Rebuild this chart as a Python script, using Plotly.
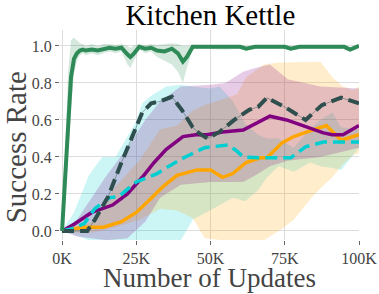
import plotly.graph_objects as go

# ---------------- data (x in thousands of updates) ----------------
green_x = [0, 1, 2, 3, 4, 5, 6, 7, 8, 10, 12, 14, 16, 18, 20, 22, 23, 24, 26, 28, 30, 32, 34.5, 37, 39,
           40.7, 42, 44, 46, 50, 55, 60, 62, 65, 70, 75, 77, 80, 85, 90, 95, 97, 100]
green_y = [0, 0.3, 0.6, 0.83, 0.93, 0.96, 0.975, 0.98, 0.975, 0.98, 0.975, 0.985, 0.99, 0.985, 0.99, 0.955,
           0.94, 0.955, 0.995, 0.985, 0.99, 0.975, 0.97, 0.985, 0.96, 0.915, 0.94, 0.995, 0.995, 0.995,
           0.99, 0.995, 0.985, 0.995, 0.995, 0.995, 0.985, 0.995, 0.995, 0.995, 0.995, 0.98, 1.0]
green_lo = [0, 0.15, 0.4, 0.65, 0.85, 0.92, 0.95, 0.96, 0.95, 0.96, 0.95, 0.96, 0.97, 0.96, 0.97, 0.9,
            0.88, 0.91, 0.98, 0.96, 0.97, 0.94, 0.92, 0.9, 0.86, 0.8, 0.88, 0.98, 0.985, 0.985,
            0.98, 0.985, 0.975, 0.985, 0.985, 0.985, 0.975, 0.985, 0.985, 0.985, 0.985, 0.97, 0.99]
green_hi = [0, 0.45, 0.85, 1.03, 1.045, 1.03, 1.015, 1.01, 1.0, 1.01, 1.0, 1.01, 1.01, 1.005, 1.01, 1.0,
            0.99, 1.0, 1.01, 1.005, 1.01, 1.005, 1.01, 1.015, 1.01, 1.0, 1.0, 1.005, 1.005, 1.005,
            1.0, 1.005, 0.995, 1.005, 1.005, 1.005, 0.995, 1.005, 1.005, 1.005, 1.005, 0.99, 1.01]

slate_x = [0, 8.5, 11, 15.5, 20, 24.5, 27, 30, 33, 37, 40.5, 44, 46, 49, 53, 58, 63, 66, 69, 75, 82, 87.5, 94, 100]
slate_y = [0, 0, 0.06, 0.185, 0.37, 0.55, 0.64, 0.69, 0.7, 0.725, 0.65, 0.56, 0.53, 0.5, 0.535, 0.6,
           0.655, 0.67, 0.72, 0.67, 0.6, 0.68, 0.72, 0.69]

cyan_x = [0, 3, 7.5, 11, 16, 19, 25, 29, 32, 36, 41.5, 48, 56, 59, 61, 66, 77, 82, 88, 100]
cyan_y = [0, 0.01, 0.04, 0.12, 0.18, 0.185, 0.265, 0.29, 0.31, 0.35, 0.40, 0.45, 0.465, 0.43, 0.40,
          0.395, 0.395, 0.455, 0.48, 0.48]
cyan_band_x = [0, 4, 9, 13.5, 18, 24.6, 27, 30, 35, 40, 44, 50, 53, 57.6, 61.6, 66, 69, 73, 78, 83.5, 87, 91, 94, 100]
cyan_lo = [0, -0.02, -0.05, -0.05, -0.05, -0.05, -0.05, -0.05, -0.05, -0.05, 0.06, 0.11, 0.14, 0.18, 0.16,
           0.22, 0.29, 0.35, 0.32, 0.37, 0.35, 0.34, 0.33, 0.45]
cyan_hi = [0, 0.1, 0.3, 0.4, 0.4, 0.58, 0.69, 0.73, 0.78, 0.79, 0.78, 0.77, 0.78, 0.7, 0.58, 0.52, 0.5,
           0.5, 0.45, 0.55, 0.6, 0.64, 0.56, 0.55]

purple_x = [0, 3.4, 10, 17, 22, 27, 31, 35, 40.7, 45, 48.8, 54, 61, 66.7, 70, 75.6, 82.4, 88, 91, 94.6, 100]
purple_y = [0, 0.03, 0.1, 0.14, 0.2, 0.29, 0.37, 0.44, 0.51, 0.52, 0.52, 0.535, 0.545, 0.59, 0.62, 0.6,
            0.56, 0.53, 0.52, 0.52, 0.57]
purple_band_x = [0, 5, 15, 22, 28, 33, 40, 50, 55, 61, 65, 70, 76, 87, 100]
purple_lo = [0, -0.03, -0.05, -0.04, 0.05, 0.18, 0.25, 0.265, 0.265, 0.265, 0.3, 0.35, 0.38, 0.4, 0.45]
purple_hi = [0, 0.06, 0.3, 0.45, 0.6, 0.7, 0.78, 0.79, 0.8, 0.86, 0.88, 0.9, 0.82, 0.78, 0.77]

orange_x = [0, 3, 7.5, 14, 20, 25, 29.6, 34, 38.7, 45.5, 50, 54, 57.5, 62, 66.7, 69, 74, 78, 82.5, 89, 94, 100]
orange_y = [0, 0.01, 0.02, 0.02, 0.05, 0.1, 0.17, 0.24, 0.3, 0.33, 0.33, 0.29, 0.31, 0.37, 0.395, 0.395,
            0.475, 0.51, 0.535, 0.57, 0.49, 0.52]
orange_band_x = [0, 5, 10, 18, 26, 33, 38.7, 44, 48, 54, 59, 62, 68, 73, 78, 84, 87, 91, 94.6, 98, 100]
orange_lo = [0, -0.01, -0.01, 0.02, 0.06, 0.12, 0.11, 0.07, -0.04, -0.05, -0.05, -0.05, -0.05, 0.0, 0.06,
             0.18, 0.23, 0.29, 0.36, 0.41, 0.42]
orange_hi = [0, 0.02, 0.05, 0.24, 0.38, 0.55, 0.57, 0.65, 0.68, 0.71, 0.74, 0.83, 0.9, 0.91, 0.912, 0.915,
             0.915, 0.83, 0.78, 0.76, 0.78]

x_ticks = [0, 25, 50, 75, 100]
x_tick_labels = ["0K", "25K", "50K", "75K", "100K"]
y_ticks = [0.0, 0.2, 0.4, 0.6, 0.8, 1.0]
y_tick_labels = ["0.0", "0.2", "0.4", "0.6", "0.8", "1.0"]

# ---------------- figure ----------------
fig = go.Figure()


def band(bx, lo, hi, color):
    fig.add_trace(go.Scatter(
        x=list(bx) + list(bx)[::-1], y=list(hi) + list(lo)[::-1],
        fill="toself", fillcolor=color, line=dict(width=0), mode="lines",
        hoverinfo="skip", showlegend=False))


band(green_x, green_lo, green_hi, "rgba(46,139,87,0.2)")
band(cyan_band_x, cyan_lo, cyan_hi, "rgba(0,206,209,0.2)")
band(orange_band_x, orange_lo, orange_hi, "rgba(255,165,0,0.2)")
band(purple_band_x, purple_lo, purple_hi, "rgba(128,0,128,0.2)")

fig.add_trace(go.Scatter(x=orange_x, y=orange_y, mode="lines",
                         line=dict(color="#FFA500", width=3.5), showlegend=False))
fig.add_trace(go.Scatter(x=purple_x, y=purple_y, mode="lines",
                         line=dict(color="#800080", width=3.5), showlegend=False))
fig.add_trace(go.Scatter(x=cyan_x, y=cyan_y, mode="lines",
                         line=dict(color="#00CED1", width=3.5, dash="12px,6px"), showlegend=False))
fig.add_trace(go.Scatter(x=slate_x, y=slate_y, mode="lines",
                         line=dict(color="rgba(47,79,79,0.45)", width=1), showlegend=False))
fig.add_trace(go.Scatter(x=slate_x, y=slate_y, mode="lines",
                         line=dict(color="#2F4F4F", width=4, dash="12px,6px"), showlegend=False))
fig.add_trace(go.Scatter(x=green_x, y=green_y, mode="lines",
                         line=dict(color="#2E8B57", width=4), showlegend=False))

serif = "Liberation Serif, Times New Roman, serif"
fig.update_layout(
    width=379, height=294,
    margin=dict(l=60, r=20, t=30, b=54),
    paper_bgcolor="white", plot_bgcolor="white",
    font=dict(family=serif, color="#444"),
    title=dict(text="Kitchen Kettle", x=0.555, xanchor="center", y=0.948, yanchor="middle",
               font=dict(family=serif, size=29, color="black")),
    xaxis=dict(range=[-0.7, 100], tickvals=x_ticks, ticktext=x_tick_labels,
               showgrid=True, gridcolor="#dddddd", gridwidth=1, zeroline=False,
               ticks="outside", ticklen=4, tickcolor="#666", showline=False, automargin=False,
               tickfont=dict(size=16, family=serif, color="#444")),
    yaxis=dict(range=[-0.049, 1.086], tickvals=y_ticks, ticktext=y_tick_labels,
               showgrid=True, gridcolor="#dddddd", gridwidth=1, zeroline=False,
               ticks="outside", ticklen=4, tickcolor="#666", showline=False, automargin=False,
               tickfont=dict(size=16, family=serif, color="#444")),
    annotations=[
        dict(text="Number of Updates", xref="paper", yref="paper", x=0.5, y=-0.098,
             xanchor="center", yanchor="top", showarrow=False,
             font=dict(size=27, family=serif, color="#444")),
        dict(text="Success Rate", xref="paper", yref="paper", x=-0.148, y=0.44,
             xanchor="center", yanchor="middle", textangle=-90, showarrow=False,
             font=dict(size=29, family=serif, color="#444")),
    ],
)

fig.write_html("out.html", config={"displayModeBar": False},
               post_script="document.body.style.margin='0';")
